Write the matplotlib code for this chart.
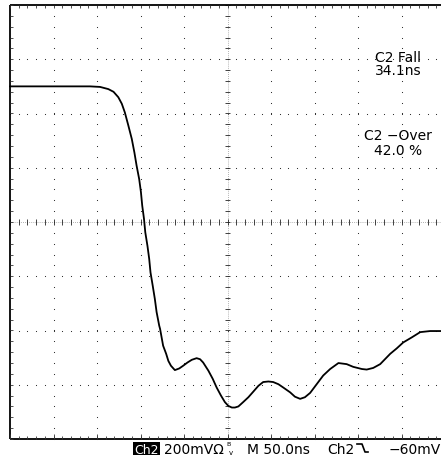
import numpy as np
import matplotlib.pyplot as plt
from matplotlib.lines import Line2D

# Captured trace, in screen divisions (50 ns/div horizontal, 200 mV/div vertical)
t_div = [0.00, 1.15, 1.84, 2.07, 2.26, 2.38, 2.49, 2.57, 2.64, 2.72,
         2.80, 2.86, 2.91, 2.97, 3.01, 3.04, 3.08, 3.11, 3.16, 3.20,
         3.23, 3.28, 3.33, 3.37, 3.43, 3.45, 3.52, 3.59, 3.64, 3.70,
         3.79, 3.89, 3.98, 4.08, 4.18, 4.29, 4.37, 4.44, 4.56, 4.66,
         4.75, 4.85, 4.94, 5.02, 5.10, 5.17, 5.25, 5.36, 5.48, 5.59,
         5.71, 5.82, 5.94, 6.05, 6.17, 6.28, 6.44, 6.55, 6.67, 6.78,
         6.90, 7.05, 7.20, 7.36, 7.55, 7.74, 7.89, 8.09, 8.20, 8.35,
         8.51, 8.74, 8.89, 9.04, 9.23, 9.43, 9.66, 9.89, 10.00]
v_div = [2.50, 2.50, 2.50, 2.49, 2.45, 2.40, 2.30, 2.18, 2.02, 1.78,
         1.53, 1.28, 1.04, 0.79, 0.55, 0.30, 0.06, -0.19, -0.44, -0.68,
         -0.93, -1.17, -1.42, -1.66, -1.91, -1.97, -2.28, -2.43, -2.56, -2.65,
         -2.73, -2.70, -2.65, -2.59, -2.54, -2.51, -2.53, -2.59, -2.74, -2.89,
         -3.05, -3.20, -3.32, -3.39, -3.42, -3.42, -3.40, -3.32, -3.23, -3.13,
         -3.02, -2.95, -2.94, -2.95, -2.99, -3.05, -3.14, -3.22, -3.26, -3.23,
         -3.15, -2.99, -2.83, -2.71, -2.60, -2.62, -2.67, -2.71, -2.72, -2.69,
         -2.62, -2.43, -2.33, -2.22, -2.13, -2.03, -2.01, -2.01, -2.01]

# readouts
meas_lines = ["C2 Fall", "34.1ns", "C2 \u2212Over", "42.0 %"]
status_scale = "200mV\u03a9"
status_time = "M 50.0ns"
status_trig = "Ch2"
status_level = "\u221260mV"

W, H = 441, 456
fig = plt.figure(figsize=(W / 100, H / 100), dpi=100)
fig.patch.set_facecolor('white')
ax = fig.add_axes([10 / W, 16 / H, 435 / W, 434 / H])
ax.set_xlim(0, 10)
ax.set_ylim(-4, 4)
ax.axis('off')

px_x = 10 / 435   # one screen pixel in divisions
px_y = 8 / 434

minor_x = np.arange(0, 10.001, 0.2)
minor_y = np.arange(-4, 4.001, 0.2)

# dotted graticule lines
dot = dict(ls='none', marker='s', ms=0.75, mew=0, color='#333333', clip_on=False)
for gx in range(1, 10):
    if gx != 5:
        ax.plot(np.full_like(minor_y, gx), minor_y, **dot)
for gy in range(-3, 4):
    if gy != 0:
        ax.plot(minor_x, np.full_like(minor_x, gy), **dot)

# center axes with minor ticks
ax.plot([0, 10], [0, 0], color='0.6', lw=0.6, ls=(0, (1, 1.5)), clip_on=False)
ax.plot([5, 5], [-4, 4], color='0.6', lw=0.6, ls=(0, (1, 1.5)), clip_on=False)
ax.vlines(minor_x, -3 * px_y, 3 * px_y, color='#222222', lw=0.6, clip_on=False)
ax.hlines(minor_y, 5 - 2.5 * px_x, 5 + 2.5 * px_x, color='#222222', lw=0.6, clip_on=False)

# frame with edge ticks
frame = dict(color='black', lw=1.3, clip_on=False, solid_capstyle='butt')
ax.plot([0, 10], [4, 4], **frame)
ax.plot([0, 10], [-4, -4], **frame)
ax.plot([0, 0], [-4, 4], **frame)
ax.vlines(minor_x, 4 - 3 * px_y, 4, color='#333333', lw=0.6, clip_on=False)
ax.vlines(minor_x, -4, -4 + 3 * px_y, color='#333333', lw=0.6, clip_on=False)
ax.vlines(np.arange(0, 10.001, 1), -4, -4 + 5 * px_y, color='#333333', lw=0.6, clip_on=False)
ax.hlines(minor_y, 0, 3 * px_x, color='#333333', lw=0.6, clip_on=False)

# waveform
ax.plot(t_div, v_div, color='black', lw=1.3, clip_on=False,
        solid_joinstyle='round', solid_capstyle='round')


def ftext(x, y, s, **kw):
    # place text by pixel position (y measured from the top)
    kw.setdefault('fontsize', 10)
    kw.setdefault('family', 'DejaVu Sans')
    return fig.text(x / W, 1 - y / H, s, **kw)


# measurement readouts
for s, yb in zip(meas_lines, [62, 75, 140, 155]):
    ftext(398, yb, s, ha='center', va='baseline')

# status bar
ftext(134, 454, "Ch2", fontsize=9, color='white', va='baseline',
      bbox=dict(boxstyle='square,pad=0.08', fc='black', ec='none'))
ftext(164, 454, status_scale, va='baseline')
ftext(226, 446, "B", fontsize=4.5, va='baseline')
ftext(229, 455, "v", fontsize=5, va='baseline')
ftext(247, 454, status_time, va='baseline')
ftext(327, 454, status_trig, va='baseline')
fig.add_artist(Line2D(np.array([357, 362, 365, 368]) / W,
                      1 - np.array([445, 445, 453, 453]) / H,
                      color='black', lw=1.2))
ftext(441, 454, status_level, ha='right', va='baseline')

fig.savefig('out.png', dpi=100, facecolor='white')
